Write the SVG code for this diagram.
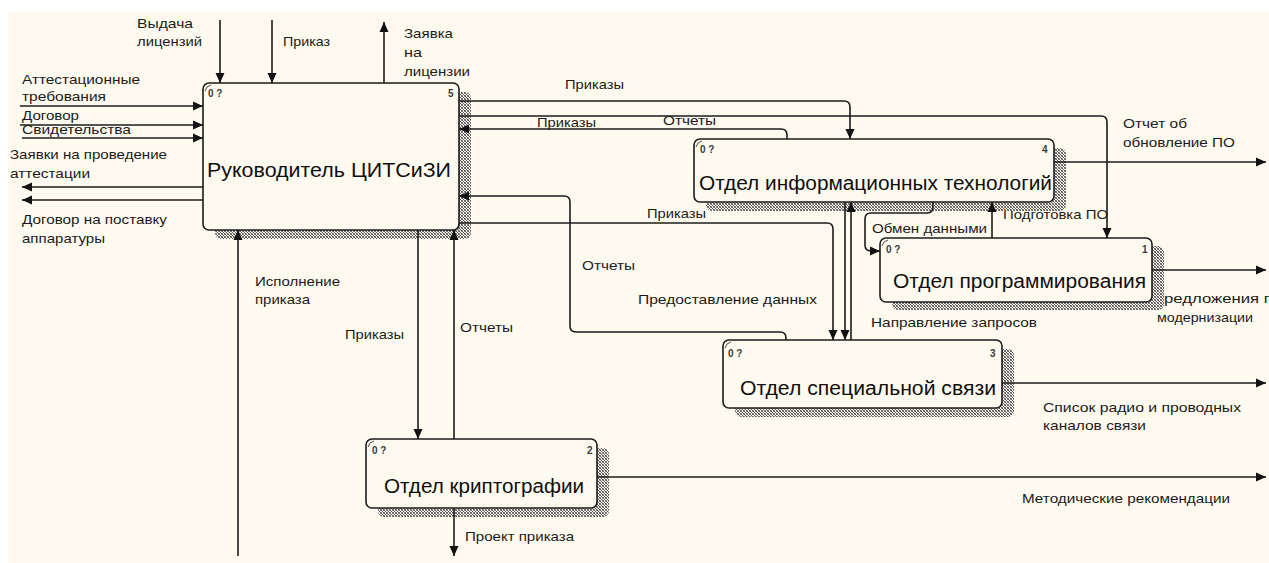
<svg xmlns="http://www.w3.org/2000/svg" width="1269" height="563" viewBox="0 0 1269 563">
  <style>
    .box { fill: #fffaef; stroke: #1c1c1c; stroke-width: 1.6; }
    .shadow { fill: url(#hatch); }
    .corner { fill: none; stroke: #222; stroke-width: 0.8; }
    .title { font-family: "Liberation Sans", Arial, sans-serif; font-size: 20px; fill: #0f0f0f; }
    .num { font-family: "Liberation Sans", Arial, sans-serif; font-size: 10px; font-weight: bold; fill: #3a3a3a; }
    .lbl { font-family: "Liberation Sans", Arial, sans-serif; font-size: 13px; fill: #1a1a1a; }
    .arr { fill: none; stroke: #1c1c1c; stroke-width: 1.6; marker-end: url(#ah); }
  </style>
  <defs>
    <!-- dithered shadow fill -->
    <pattern id="hatch" width="3" height="3" patternUnits="userSpaceOnUse">
      <rect width="3" height="3" fill="#fffaef"/>
      <rect x="0" y="0" width="1" height="1" fill="#555"/>
      <rect x="1" y="1" width="1" height="1" fill="#555"/>
      <rect x="2" y="2" width="1" height="1" fill="#555"/>
      <rect x="2" y="0" width="1" height="1" fill="#888"/>
      <rect x="0" y="2" width="1" height="1" fill="#888"/>
    </pattern>
    <marker id="ah" markerUnits="userSpaceOnUse" markerWidth="10" markerHeight="10" refX="10" refY="5" orient="auto">
      <path d="M0,0.5 L10,5 L0,9.5 z" fill="#111"/>
    </marker>
  </defs>

  <!-- page -->
  <rect x="0" y="0" width="1269" height="563" fill="#ffffff"/>
  <rect x="8" y="12" width="1261" height="551" fill="#fffaef"/>

  <!-- arrow labels -->
  <g id="labels">
    <text class="lbl" x="137" y="28" textLength="56" lengthAdjust="spacingAndGlyphs">Выдача</text>
    <text class="lbl" x="137" y="46" textLength="65" lengthAdjust="spacingAndGlyphs">лицензий</text>
    <text class="lbl" x="283" y="46" textLength="47" lengthAdjust="spacingAndGlyphs">Приказ</text>
    <text class="lbl" x="404" y="38" textLength="49" lengthAdjust="spacingAndGlyphs">Заявка</text>
    <text class="lbl" x="404" y="57" textLength="18" lengthAdjust="spacingAndGlyphs">на</text>
    <text class="lbl" x="404" y="76" textLength="66" lengthAdjust="spacingAndGlyphs">лицензии</text>
    <text class="lbl" x="22" y="84" textLength="118" lengthAdjust="spacingAndGlyphs">Аттестационные</text>
    <text class="lbl" x="22" y="101" textLength="84" lengthAdjust="spacingAndGlyphs">требования</text>
    <text class="lbl" x="22" y="120" textLength="57" lengthAdjust="spacingAndGlyphs">Договор</text>
    <text class="lbl" x="22" y="134" textLength="109" lengthAdjust="spacingAndGlyphs">Свидетельства</text>
    <text class="lbl" x="10" y="159" textLength="157" lengthAdjust="spacingAndGlyphs">Заявки на проведение</text>
    <text class="lbl" x="10" y="178" textLength="80" lengthAdjust="spacingAndGlyphs">аттестации</text>
    <text class="lbl" x="22" y="224" textLength="145" lengthAdjust="spacingAndGlyphs">Договор на поставку</text>
    <text class="lbl" x="22" y="243" textLength="83" lengthAdjust="spacingAndGlyphs">аппаратуры</text>

    <text class="lbl" x="565" y="89" textLength="59" lengthAdjust="spacingAndGlyphs">Приказы</text>
    <text class="lbl" x="537" y="127" textLength="59" lengthAdjust="spacingAndGlyphs">Приказы</text>
    <text class="lbl" x="663" y="125" textLength="53" lengthAdjust="spacingAndGlyphs">Отчеты</text>
    <text class="lbl" x="647" y="218" textLength="59" lengthAdjust="spacingAndGlyphs">Приказы</text>
    <text class="lbl" x="582" y="270" textLength="53" lengthAdjust="spacingAndGlyphs">Отчеты</text>
    <text class="lbl" x="638" y="304" textLength="179" lengthAdjust="spacingAndGlyphs">Предоставление данных</text>
    <text class="lbl" x="871" y="327" textLength="166" lengthAdjust="spacingAndGlyphs">Направление запросов</text>
    <text class="lbl" x="872" y="233" textLength="115" lengthAdjust="spacingAndGlyphs">Обмен данными</text>
    <text class="lbl" x="1003" y="219" textLength="105" lengthAdjust="spacingAndGlyphs">Подготовка ПО</text>
    <text class="lbl" x="1123" y="128" textLength="64" lengthAdjust="spacingAndGlyphs">Отчет об</text>
    <text class="lbl" x="1123" y="147" textLength="112" lengthAdjust="spacingAndGlyphs">обновление ПО</text>
    <text class="lbl" x="1152" y="303" textLength="130" lengthAdjust="spacingAndGlyphs">Предложения по</text>
    <text class="lbl" x="1157" y="322" textLength="96" lengthAdjust="spacingAndGlyphs">модернизации</text>

    <text class="lbl" x="255" y="286" textLength="85" lengthAdjust="spacingAndGlyphs">Исполнение</text>
    <text class="lbl" x="255" y="304" textLength="55" lengthAdjust="spacingAndGlyphs">приказа</text>
    <text class="lbl" x="345" y="339" textLength="59" lengthAdjust="spacingAndGlyphs">Приказы</text>
    <text class="lbl" x="460" y="332" textLength="53" lengthAdjust="spacingAndGlyphs">Отчеты</text>
    <text class="lbl" x="465" y="541" textLength="109" lengthAdjust="spacingAndGlyphs">Проект приказа</text>
    <text class="lbl" x="1043" y="412" textLength="198" lengthAdjust="spacingAndGlyphs">Список радио и проводных</text>
    <text class="lbl" x="1043" y="430" textLength="103" lengthAdjust="spacingAndGlyphs">каналов связи</text>
    <text class="lbl" x="1022" y="503" textLength="208" lengthAdjust="spacingAndGlyphs">Методические рекомендации</text>
  </g>

  <!-- activity boxes -->
  <g id="node-5">
    <rect class="shadow" x="215" y="92" width="256" height="147" rx="6"/>
    <rect class="box" x="203" y="83" width="256" height="147" rx="6"/>
    <path class="corner" d="M205,91 Q206,86 211,85"/>
    <text class="num" x="208" y="97">0 ?</text>
    <text class="num" x="448" y="97">5</text>
    <text class="title" x="207" y="177" textLength="244" lengthAdjust="spacingAndGlyphs">Руководитель ЦИТСиЗИ</text>
  </g>
  <g id="node-4">
    <rect class="shadow" x="706" y="148" width="360" height="63" rx="6"/>
    <rect class="box" x="694" y="139" width="360" height="63" rx="6"/>
    <path class="corner" d="M696,147 Q697,142 702,141"/>
    <text class="num" x="700" y="153">0 ?</text>
    <text class="num" x="1042" y="153">4</text>
    <text class="title" x="699" y="190" textLength="353" lengthAdjust="spacingAndGlyphs">Отдел информационных технологий</text>
  </g>
  <g id="node-1">
    <rect class="shadow" x="892" y="246" width="272" height="64" rx="6"/>
    <rect class="box" x="880" y="238" width="272" height="64" rx="6"/>
    <path class="corner" d="M882,246 Q883,241 888,240"/>
    <text class="num" x="886" y="253">0 ?</text>
    <text class="num" x="1142" y="253">1</text>
    <text class="title" x="893" y="288" textLength="253" lengthAdjust="spacingAndGlyphs">Отдел программирования</text>
  </g>
  <g id="node-3">
    <rect class="shadow" x="735" y="349" width="279" height="68" rx="6"/>
    <rect class="box" x="723" y="340" width="279" height="68" rx="6"/>
    <path class="corner" d="M725,348 Q726,343 731,342"/>
    <text class="num" x="728" y="357">0 ?</text>
    <text class="num" x="990" y="357">3</text>
    <text class="title" x="740" y="395" textLength="256" lengthAdjust="spacingAndGlyphs">Отдел специальной связи</text>
  </g>
  <g id="node-2">
    <rect class="shadow" x="378" y="448" width="231" height="69" rx="6"/>
    <rect class="box" x="366" y="439" width="231" height="69" rx="6"/>
    <path class="corner" d="M368,447 Q369,442 374,441"/>
    <text class="num" x="372" y="454">0 ?</text>
    <text class="num" x="587" y="454">2</text>
    <text class="title" x="384" y="493" textLength="200" lengthAdjust="spacingAndGlyphs">Отдел криптографии</text>
  </g>

  <!-- arrows -->
  <g id="connectors">
    <!-- boundary controls / outputs of the head box -->
    <path class="arr" d="M220,20 V83"/>
    <path class="arr" d="M272,20 V83"/>
    <path class="arr" d="M384,83 V22"/>
    <path class="arr" d="M20,106 H203"/>
    <path class="arr" d="M20,125 H203"/>
    <path class="arr" d="M22,138 H203"/>
    <path class="arr" d="M203,187 H22"/>
    <path class="arr" d="M203,200 H22"/>
    <path class="arr" d="M238,556 V230"/>

    <!-- head box and cryptography -->
    <path class="arr" d="M418,230 V439"/>
    <path class="arr" d="M454,439 V230"/>
    <path class="arr" d="M454,508 V556"/>
    <path class="arr" d="M597,477 H1266"/>

    <!-- head box and IT -->
    <path class="arr" d="M459,101 H844 Q850,101 850,107 V139"/>
    <path class="arr" d="M459,116 H1101 Q1107,116 1107,122 V238"/>
    <path class="arr" d="M787,139 V135 Q787,129 781,129 H459"/>

    <!-- head box and special communications -->
    <path class="arr" d="M786,340 V338 Q786,332 780,332 H576 Q570,332 570,326 V202 Q570,196 564,196 H459"/>
    <path class="arr" d="M459,223 H827 Q833,223 833,229 V340"/>

    <!-- IT and special communications -->
    <path class="arr" d="M845,202 V340"/>
    <path class="arr" d="M851,340 V202"/>

    <!-- IT and programming -->
    <path class="arr" d="M933,202 V207 Q933,213 927,213 H871 Q865,213 865,219 V245 Q865,251 871,251 H880"/>
    <path class="arr" d="M992,238 V202"/>

    <!-- outputs to the right border -->
    <path class="arr" d="M1054,162 H1266"/>
    <path class="arr" d="M1152,270 H1266"/>
    <path class="arr" d="M1002,383 H1266"/>
  </g>
</svg>
